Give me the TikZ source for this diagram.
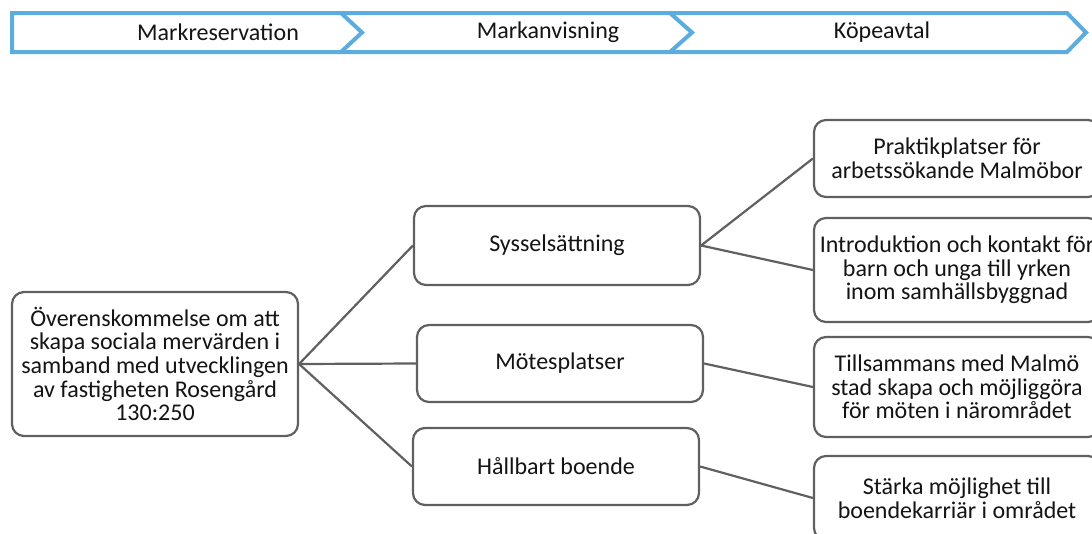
\documentclass[tikz,border=0pt]{standalone}
\usepackage{fontspec}
\setmainfont{Carlito}
\definecolor{chev}{RGB}{92,172,224}
\definecolor{boxline}{RGB}{96,96,96}
\definecolor{txtcol}{RGB}{20,20,20}
\begin{document}
\begin{tikzpicture}[x=1pt,y=-1pt,
  box/.style={draw=boxline, line width=2.2pt, rounded corners=12pt, fill=white,
    minimum width=286pt, inner sep=0pt},
  txt/.style={font=\fontsize{24}{23.6}\selectfont, text=txtcol, align=center, inner sep=0pt},
  conn/.style={draw=boxline, line width=2.2pt},
  chevline/.style={draw=chev, line width=4pt, line join=miter}
]
\useasboundingbox (0,0) rectangle (1092,533);
\clip (0,0) rectangle (1092,533);
% chevron bar
\draw[chevline, fill=white] (12,13) -- (1067,13) -- (1086,32.5) -- (1067,52) -- (12,52) -- cycle;
\draw[chevline] (341,13) -- (362,32.5) -- (341,52);
\draw[chevline] (670,13) -- (692,32.5) -- (670,52);
\node[txt] (c1) at (218,32.5) {Markreservation};
\node[txt] (c2) at (548,32.5) {Markanvisning};
\node[txt] (c3) at (882,32.5) {Köpeavtal};
% boxes
\node[box, minimum height=144pt] (root) at (155,364) {};
\node[box, minimum height=79pt] (syss) at (557,245.5) {};
\node[box, minimum height=77pt] (mote) at (560,363.5) {};
\node[box, minimum height=77pt] (hall) at (556,466.5) {};
\node[box, minimum height=77pt] (prak) at (957,158.5) {};
\node[box, minimum height=104pt] (intr) at (957,270) {};
\node[box, minimum height=100pt] (till) at (957,387) {};
\node[box, minimum height=84pt] (star) at (957,498) {};
% texts
\node[txt] (troot) at (root.center) {Överenskommelse om att\\skapa sociala mervärden i\\samband med utvecklingen\\av fastigheten Rosengård\\130:250};
\node[txt] (tsyss) at (syss.center) {Sysselsättning};
\node[txt] (tmote) at (mote.center) {Mötesplatser};
\node[txt] (thall) at (hall.center) {Hållbart boende};
\node[txt] (tprak) at (prak.center) {Praktikplatser för\\arbetssökande Malmöbor};
\node[txt] (tintr) at (intr.center) {Introduktion och kontakt för\\barn och unga till yrken\\inom samhällsbyggnad};
\node[txt] (ttill) at (till.center) {Tillsammans med Malmö\\stad skapa och möjliggöra\\för möten i närområdet};
\node[txt] (tstar) at (star.center) {Stärka möjlighet till\\boendekarriär i området};
% connectors
\draw[conn] (root.east) -- (syss.west);
\draw[conn] (root.east) -- (mote.west);
\draw[conn] (root.east) -- (hall.west);
\draw[conn] (syss.east) -- (prak.west);
\draw[conn] (syss.east) -- (intr.west);
\draw[conn] (mote.east) -- (till.west);
\draw[conn] (hall.east) -- (star.west);
\end{tikzpicture}
\end{document}
